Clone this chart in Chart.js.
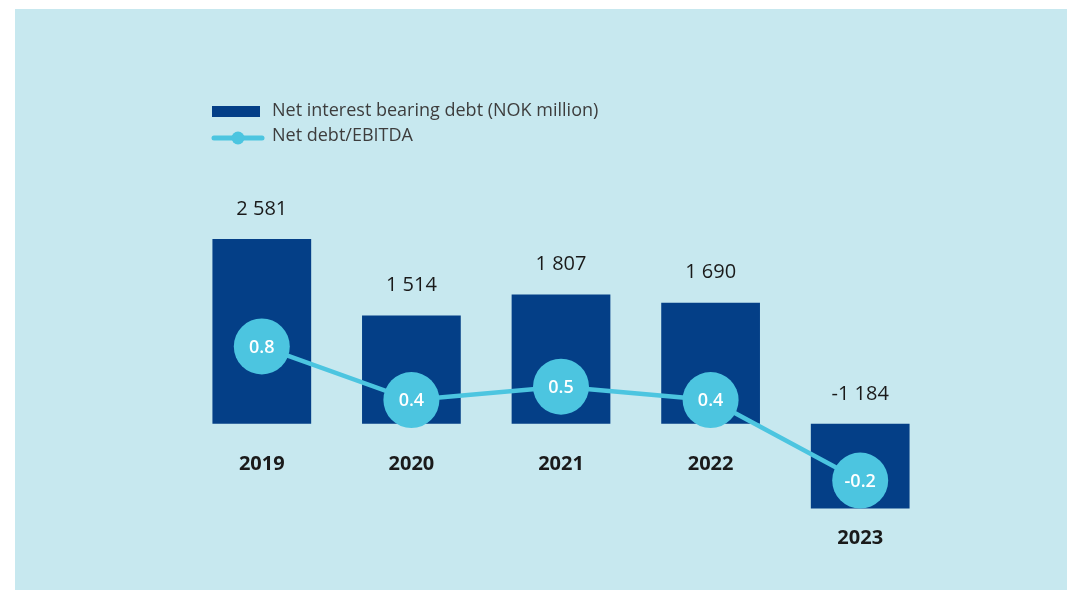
<!DOCTYPE html>
<html lang="en">
<head>
    <meta charset="UTF-8">
    <title>Net interest bearing debt</title>
    <script src="https://cdn.jsdelivr.net/npm/chart.js"></script>
    <style>
        body { margin: 0; background: #fff; }
        #panel { position: absolute; left: 15px; top: 9px; width: 1052px; height: 581px; background: #c7e8ef; }
        #wrap { position: absolute; left: 0; top: 0; width: 1067px; height: 590px; }
    </style>
</head>
<body>
    <div id="panel"></div>
    <div id="wrap"><canvas id="debtChart" width="1067" height="590"></canvas></div>

    <script>
        // data
        const years = ['2019', '2020', '2021', '2022', '2023'];
        const netDebt = [2581, 1514, 1807, 1690, -1184];
        const debtLabels = ['2 581', '1 514', '1 807', '1 690', '-1 184'];
        const debtToEbitda = [0.8, 0.4, 0.5, 0.4, -0.2];

        const navy = '#043f87';
        const cyan = '#4cc5e0';
        const font = '"Open Sans", "Noto Sans", sans-serif';

        // value labels, year labels, point labels and legend
        const labelsPlugin = {
            id: 'labels',
            afterDatasetsDraw(chart) {
                const ctx = chart.ctx;
                const bars = chart.getDatasetMeta(0).data;
                const pts = chart.getDatasetMeta(1).data;
                ctx.save();
                ctx.textAlign = 'center';
                ctx.textBaseline = 'middle';
                bars.forEach((bar, i) => {
                    const neg = netDebt[i] < 0;
                    const top = neg ? bar.base : bar.y;
                    const bottom = neg ? bar.y : bar.base;
                    ctx.fillStyle = '#1a1a1a';
                    ctx.font = '20px ' + font;
                    ctx.fillText(debtLabels[i], bar.x, top - 30);
                    ctx.font = 'bold 20px ' + font;
                    ctx.fillText(years[i], bar.x, bottom + (neg ? 30 : 40));
                });
                ctx.fillStyle = '#ffffff';
                ctx.font = '600 18px ' + font;
                pts.forEach((p, i) => {
                    ctx.fillText(debtToEbitda[i].toFixed(1), p.x, p.y + 1);
                });

                // legend
                ctx.textAlign = 'left';
                ctx.font = '18px ' + font;
                ctx.fillStyle = navy;
                ctx.fillRect(212, 106, 48, 11);
                ctx.fillStyle = '#3d3d3d';
                ctx.fillText(chart.data.datasets[0].label, 272, 111);

                ctx.strokeStyle = cyan;
                ctx.lineWidth = 5;
                ctx.lineCap = 'round';
                ctx.beginPath();
                ctx.moveTo(214, 138);
                ctx.lineTo(262, 138);
                ctx.stroke();
                ctx.fillStyle = cyan;
                ctx.beginPath();
                ctx.arc(238, 138, 6.5, 0, Math.PI * 2);
                ctx.fill();
                ctx.fillStyle = '#3d3d3d';
                ctx.fillText(chart.data.datasets[1].label, 272, 136);
                ctx.restore();
            }
        };

        const ctxDebt = document.getElementById('debtChart').getContext('2d');
        const debtChart = new Chart(ctxDebt, {
            type: 'bar',
            data: {
                labels: years,
                datasets: [{
                    type: 'bar',
                    label: 'Net interest bearing debt (NOK million)',
                    data: netDebt,
                    backgroundColor: navy,
                    barPercentage: 0.66,
                    categoryPercentage: 1,
                    yAxisID: 'y',
                    order: 2
                }, {
                    type: 'line',
                    label: 'Net debt/EBITDA',
                    data: debtToEbitda,
                    borderColor: cyan,
                    borderWidth: 4.5,
                    pointRadius: 28,
                    pointHoverRadius: 28,
                    pointBackgroundColor: cyan,
                    pointBorderWidth: 0,
                    tension: 0,
                    yAxisID: 'y2',
                    order: 1
                }]
            },
            options: {
                responsive: false,
                animation: false,
                events: [],
                layout: {
                    autoPadding: false,
                    padding: { left: 187, right: 132, top: 209, bottom: 23 }
                },
                plugins: {
                    legend: { display: false },
                    tooltip: { enabled: false }
                },
                scales: {
                    x: { display: false },
                    y: { display: false, min: -2000, max: 3000 },
                    y2: { display: false, min: -0.845, max: 1.825 }
                }
            },
            plugins: [labelsPlugin]
        });
    </script>
</body>
</html>
